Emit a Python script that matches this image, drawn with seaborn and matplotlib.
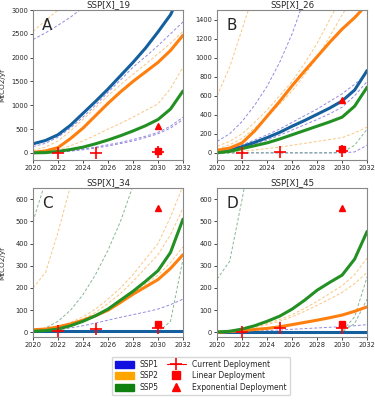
import matplotlib
matplotlib.use("Agg")
import matplotlib.pyplot as plt
from matplotlib.lines import Line2D
from matplotlib.patches import Patch
import seaborn as sns

# -----------------------------------
# Data (MtCO2/yr)
# -----------------------------------
years = list(range(2020, 2033))
panel_titles = ["SSP[X]_19", "SSP[X]_26", "SSP[X]_34", "SSP[X]_45"]
panel_letters = ["A", "B", "C", "D"]

# thick median lines
a_ssp1 = [190, 260, 380, 580, 830, 1080, 1340, 1620, 1900, 2200, 2540, 2900, 3450]
a_ssp2 = [10, 40, 110, 300, 520, 780, 1040, 1280, 1500, 1700, 1900, 2150, 2470]
a_ssp5 = [0, 5, 30, 70, 120, 190, 270, 360, 460, 570, 700, 920, 1300]

b_ssp1 = [10, 30, 65, 110, 160, 215, 280, 340, 405, 470, 545, 660, 865]
b_ssp2 = [25, 50, 105, 230, 385, 540, 705, 860, 1010, 1160, 1300, 1420, 1560]
b_ssp5 = [0, 15, 45, 75, 105, 145, 190, 235, 280, 325, 375, 490, 690]

c_ssp1 = [5, 5, 5, 5, 5, 5, 5, 5, 5, 5, 5, 5, 5]
c_ssp2 = [12, 15, 25, 38, 55, 75, 100, 135, 172, 205, 238, 288, 350]
c_ssp5 = [5, 8, 15, 30, 50, 75, 105, 145, 185, 230, 278, 360, 510]

d_ssp1 = [2, 2, 2, 2, 2, 2, 2, 2, 2, 2, 2, 2, 2]
d_ssp2 = [0, 4, 8, 13, 18, 25, 35, 45, 55, 66, 78, 95, 115]
d_ssp5 = [2, 5, 15, 30, 50, 73, 105, 145, 190, 225, 258, 330, 455]

# thin individual model runs
a_thin = {
    "SSP1": [
        [2380, 2520, 2680, 2850, 3050, 3300, 3550, 3800, 4100, 4400, 4700, 5000, 5300],
        [130, 200, 330, 520, 750, 1000, 1270, 1530, 1800, 2020, 2250, 2500, 2750],
        [0, 5, 20, 45, 80, 120, 170, 220, 280, 350, 430, 560, 750],
        [0, 3, 15, 35, 65, 100, 145, 195, 250, 320, 400, 520, 700],
    ],
    "SSP2": [
        [2550, 2780, 3000, 3250, 3500, 3800, 4100, 4400, 4700, 5000, 5300, 5600, 5900],
        [50, 120, 250, 460, 700, 950, 1200, 1430, 1650, 1860, 2080, 2300, 2550],
        [0, 20, 60, 150, 250, 370, 500, 620, 750, 890, 1030, 1350, 1800],
    ],
    "SSP5": [],
}
b_thin = {
    "SSP1": [
        [120, 200, 330, 500, 700, 950, 1250, 1620, 2000, 2400, 2800, 3200, 3600],
        [20, 45, 85, 135, 190, 250, 320, 390, 460, 540, 620, 720, 830],
        [5, 20, 50, 90, 135, 185, 240, 295, 350, 410, 480, 600, 750],
        [0, 0, 0, 0, 0, 0, 0, 0, 0, 0, 0, 10, 80],
    ],
    "SSP2": [
        [600, 900, 1300, 1700, 2100, 2500, 2900, 3300, 3700, 4100, 4500, 4900, 5300],
        [70, 120, 200, 320, 450, 600, 750, 940, 1150, 1400, 1650, 1900, 2150],
        [40, 85, 150, 260, 380, 510, 650, 820, 1000, 1220, 1450, 1650, 1850],
        [0, 5, 15, 30, 45, 60, 80, 100, 120, 140, 160, 210, 270],
    ],
    "SSP5": [
        [0, 0, 0, 0, 0, 0, 0, 0, 0, 0, 5, 80, 250],
    ],
}
c_thin = {
    "SSP1": [
        [0, 5, 12, 20, 30, 42, 55, 68, 80, 92, 105, 125, 150],
    ],
    "SSP2": [
        [200, 270, 450, 660, 900, 1150, 1400, 1650, 1900, 2150, 2400, 2650, 2900],
        [5, 12, 25, 45, 70, 105, 150, 200, 260, 330, 400, 520, 660],
        [5, 10, 20, 38, 60, 90, 130, 175, 230, 290, 350, 440, 560],
        [10, 14, 24, 38, 56, 78, 105, 140, 180, 218, 258, 315, 385],
    ],
    "SSP5": [
        [500, 680, 900, 1150, 1400, 1650, 1900, 2150, 2400, 2650, 2900, 3150, 3400],
        [5, 20, 50, 100, 170, 260, 370, 500, 660, 840, 1040, 1260, 1500],
        [0, 0, 0, 0, 0, 0, 0, 0, 0, 0, 0, 50, 330],
    ],
}
d_thin = {
    "SSP1": [
        [0, 1, 3, 5, 8, 11, 14, 17, 20, 23, 26, 30, 35],
    ],
    "SSP2": [
        [0, 6, 15, 26, 40, 58, 80, 108, 140, 175, 210, 260, 335],
        [0, 5, 12, 22, 35, 50, 70, 95, 122, 150, 180, 220, 270],
    ],
    "SSP5": [
        [240, 320, 600, 900, 1200, 1500, 1800, 2100, 2400, 2700, 3000, 3300, 3600],
        [0, 0, 0, 0, 0, 0, 0, 0, 0, 0, 5, 70, 250],
        [0, 0, 0, 0, 0, 0, 0, 0, 0, 0, 2, 40, 150],
    ],
}

# deployment markers
current_years = [2022, 2025, 2030]
current_vals = [[-10, 0, 25], [0, 10, 20], [5, 15, 20], [3, 18, 20]]
linear_year = 2030
linear_vals = [40, 40, 40, 40]
exp_year = 2030
exp_vals = [560, 560, 560, 560]

# -----------------------------------
# Plot Style
# -----------------------------------
sns.set_style("ticks")
plt.rcParams["font.family"] = ["DejaVu Sans"]

thick_colors = {"SSP1": "#14609f", "SSP2": "#ff7f0e", "SSP5": "#229022"}
thin_colors = {"SSP1": "#7062d6", "SSP2": "#f7b45a", "SSP5": "#5f9f6f"}

fig = plt.figure(figsize=(3.75, 4.01), dpi=100)
positions = [
    [0.088, 0.601, 0.40, 0.374],
    [0.579, 0.601, 0.40, 0.374],
    [0.088, 0.160, 0.40, 0.371],
    [0.579, 0.160, 0.40, 0.371],
]
ylims = [(-150, 3000), (-75, 1500), (-20, 650), (-20, 650)]
yticks = [range(0, 3001, 500), range(0, 1401, 200), range(0, 601, 100), range(0, 601, 100)]

thick = [
    (a_ssp1, a_ssp2, a_ssp5),
    (b_ssp1, b_ssp2, b_ssp5),
    (c_ssp1, c_ssp2, c_ssp5),
    (d_ssp1, d_ssp2, d_ssp5),
]
thin = [a_thin, b_thin, c_thin, d_thin]

for i in range(4):
    ax = fig.add_axes(positions[i])

    for ssp, runs in thin[i].items():
        for run in runs:
            sns.lineplot(x=years, y=run, ax=ax, color=thin_colors[ssp],
                         lw=0.7, alpha=0.75, linestyle=(0, (3, 2)))

    s1, s2, s5 = thick[i]
    for ssp, vals in [("SSP1", s1), ("SSP2", s2), ("SSP5", s5)]:
        sns.lineplot(x=years, y=vals, ax=ax, color=thick_colors[ssp], lw=2.2)

    ax.plot(current_years, current_vals[i], linestyle="none", marker="+",
            color="red", ms=8, mew=1.2, zorder=5)
    ax.plot([linear_year], [linear_vals[i]], linestyle="none", marker="s",
            color="red", ms=4, zorder=5)
    ax.plot([exp_year], [exp_vals[i]], linestyle="none", marker="^",
            color="red", ms=4.5, zorder=5)

    ax.set_xlim(2020, 2032)
    ax.set_ylim(*ylims[i])
    ax.set_xticks(range(2020, 2033, 2))
    ax.set_yticks(list(yticks[i]))
    ax.tick_params(labelsize=4.8, length=2, width=0.6, pad=1.5)
    for sp in ax.spines.values():
        sp.set_color("#888888")
        sp.set_linewidth(0.8)
    ax.set_title(panel_titles[i], fontsize=6.2, pad=2)
    ax.text(0.06, 0.95, panel_letters[i], transform=ax.transAxes,
            fontsize=11, va="top", ha="left")
    if i in (0, 2):
        ax.set_ylabel("MtCO2/yr", fontsize=5.2)
        ax.yaxis.set_label_coords(-0.185, 0.5)

# -----------------------------------
# Legend
# -----------------------------------
handles = [
    Patch(color="#1010e0", label="SSP1"),
    Patch(color="#ffa500", label="SSP2"),
    Patch(color="#108010", label="SSP5"),
    Line2D([], [], color="red", marker="+", linestyle="-", lw=0.8, ms=9, mew=1.2,
           label="Current Deployment"),
    Line2D([], [], color="red", marker="s", linestyle="none", ms=6,
           label="Linear Deployment"),
    Line2D([], [], color="red", marker="^", linestyle="none", ms=6,
           label="Exponential Deployment"),
]
fig.legend(handles=handles, ncol=2, loc="lower center",
           bbox_to_anchor=(0.535, 0.005), fontsize=5.5, frameon=True,
           handlelength=2.5, handleheight=1.0, columnspacing=1.0,
           labelspacing=0.35, borderpad=0.4, edgecolor="#cccccc")

fig.savefig("out.png", dpi=100)
plt.close(fig)
